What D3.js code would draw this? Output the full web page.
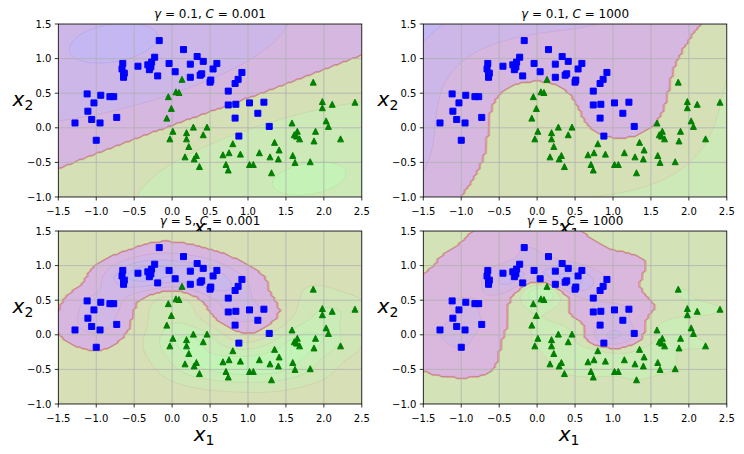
<!DOCTYPE html>
<html>
<head>
<meta charset="utf-8">
<script src="https://cdn.jsdelivr.net/npm/d3@7"></script>
<style>
  body { margin: 0; background: #fff; }
  text { font-family: "DejaVu Sans", sans-serif; }
</style>
</head>
<body>
<svg width="744" height="454"></svg>
<script>
// moons data (class 0 = blue squares, class 1 = green triangles)
var squaresX = [-0.17, 0.15, 0.33, 0.41, 0.59, 0.54, 0.92, 0.87, 0.83, 0.51, 0.50, 0.37, 0.39, 0.24, 0.24, 0.04,
  -0.04, -0.23, -0.32, -0.27, -0.28, -0.30, -0.19, -0.45, -0.65, -0.66, -0.63, -0.64, -1.12, -0.94, -0.82, -0.77,
  -1.03, -1.11, -1.06, -0.95, -1.28, -0.73, -1.00, 0.74, 0.74, 0.84, 1.02, 1.21, 1.13, 0.83, 1.28, 0.88,
  -0.29, -0.64];
var squaresY = [1.26, 1.13, 1.03, 0.96, 0.93, 0.85, 0.80, 0.70, 0.64, 0.69, 0.66, 0.76, 0.78, 0.92, 0.73, 0.81,
  0.93, 1.02, 0.91, 0.95, 0.88, 0.84, 0.75, 0.89, 0.93, 0.85, 0.79, 0.73, 0.49, 0.47, 0.45, 0.45,
  0.36, 0.24, 0.12, 0.07, 0.07, 0.15, -0.18, 0.53, 0.33, 0.34, 0.36, 0.37, 0.21, 0.14, 0.02, -0.12,
  0.90, 0.76];
var trianglesX = [0.13, -0.05, 0.05, 0.09, -0.01, -0.07, 0.01, -0.03, 0.19, 0.19, 0.28, 0.46, 0.41, 0.22, 0.17,
  0.32, 0.29, 0.36, 0.67, 0.75, 0.80, 0.90, 0.71, 0.74, 1.02, 1.07, 1.15, 1.29, 1.31, 1.35, 1.41, 1.40, 1.58,
  1.59, 1.62, 1.61, 1.65, 1.68, 1.64, 1.82, 1.87, 1.89, 1.86, 1.98, 1.98, 2.11, 2.03, 2.06, 2.22, 2.41];
var trianglesY = [0.70, 0.45, 0.52, 0.51, 0.28, 0.14, -0.05, -0.16, -0.07, -0.16, 0.01, 0.01, -0.10, -0.27, -0.42,
  -0.40, -0.45, -0.56, -0.39, -0.36, -0.23, -0.38, -0.53, -0.61, -0.53, -0.53, -0.36, -0.42, -0.65, -0.21, -0.32,
  -0.45, 0.07, -0.40, -0.50, -0.10, -0.05, -0.16, -0.12, -0.49, -0.19, -0.05, 0.66, 0.38, 0.29, 0.34, 0.10,
  0.02, -0.16, 0.37];

// hyperparameters of the four RBF SVMs
var gammas = [0.1, 0.1, 5, 5];
var Cs = [0.001, 1000, 0.001, 1000];

var xTicks = [-1.5, -1.0, -0.5, 0.0, 0.5, 1.0, 1.5, 2.0, 2.5];
var yTicks = [-1.0, -0.5, 0.0, 0.5, 1.0, 1.5];

var svg = d3.select("svg");
var W = 303.5, H = 173;
var lefts = [58.3, 423.3, 58.3, 423.3];
var tops = [24, 24, 231, 231];
var xMin = -1.5, xMax = 2.5, yMin = -1, yMax = 1.5, N = 100;
var fmt = d3.format(".1f");

// standard scaler (as in the pipeline)
var allX = squaresX.concat(trianglesX), allY = squaresY.concat(trianglesY);
var labels = squaresX.map(function () { return -1; }).concat(trianglesX.map(function () { return 1; }));
var mx = d3.mean(allX), my = d3.mean(allY);
var sdx = Math.sqrt(d3.mean(allX, function (v) { return (v - mx) * (v - mx); }));
var sdy = Math.sqrt(d3.mean(allY, function (v) { return (v - my) * (v - my); }));
var Xs = allX.map(function (v, i) { return [(v - mx) / sdx, (allY[i] - my) / sdy]; });

// small SMO solver, libsvm style working set selection
function trainSVM(X, Y, gamma, C) {
  var n = X.length, i, j, t;
  var K = [];
  for (i = 0; i < n; i++) {
    K[i] = new Float64Array(n);
    for (j = 0; j < n; j++) {
      var dx = X[i][0] - X[j][0], dy = X[i][1] - X[j][1];
      K[i][j] = Math.exp(-gamma * (dx * dx + dy * dy));
    }
  }
  var a = new Float64Array(n), G = new Float64Array(n).fill(-1);
  var eps = 1e-3, TAU = 1e-12;
  for (var iter = 0; iter < 2000000; iter++) {
    var Gmax = -Infinity, Gmax2 = -Infinity, gi = -1, gj = -1, objMin = Infinity;
    for (t = 0; t < n; t++) {
      if (Y[t] === 1) { if (a[t] < C && -G[t] >= Gmax) { Gmax = -G[t]; gi = t; } }
      else { if (a[t] > 0 && G[t] >= Gmax) { Gmax = G[t]; gi = t; } }
    }
    i = gi;
    for (j = 0; j < n; j++) {
      var gd = null;
      if (Y[j] === 1) {
        if (a[j] > 0) { gd = Gmax + G[j]; if (G[j] >= Gmax2) Gmax2 = G[j]; }
      } else {
        if (a[j] < C) { gd = Gmax - G[j]; if (-G[j] >= Gmax2) Gmax2 = -G[j]; }
      }
      if (gd !== null && gd > 0 && i >= 0) {
        var q = K[i][i] + K[j][j] - 2 * K[i][j];
        var obj = -gd * gd / (q > 0 ? q : TAU);
        if (obj <= objMin) { objMin = obj; gj = j; }
      }
    }
    if (Gmax + Gmax2 < eps || gi < 0 || gj < 0) break;
    j = gj;
    var ai = a[i], aj = a[j];
    var quad = K[i][i] + K[j][j] - 2 * K[i][j];
    if (quad <= 0) quad = TAU;
    if (Y[i] !== Y[j]) {
      var delta = (-G[i] - G[j]) / quad, diff = a[i] - a[j];
      a[i] += delta; a[j] += delta;
      if (diff > 0) { if (a[j] < 0) { a[j] = 0; a[i] = diff; } }
      else { if (a[i] < 0) { a[i] = 0; a[j] = -diff; } }
      if (diff > 0) { if (a[i] > C) { a[i] = C; a[j] = C - diff; } }
      else { if (a[j] > C) { a[j] = C; a[i] = C + diff; } }
    } else {
      var delta2 = (G[i] - G[j]) / quad, sum = a[i] + a[j];
      a[i] -= delta2; a[j] += delta2;
      if (sum > C) { if (a[i] > C) { a[i] = C; a[j] = sum - C; } }
      else { if (a[j] < 0) { a[j] = 0; a[i] = sum; } }
      if (sum > C) { if (a[j] > C) { a[j] = C; a[i] = sum - C; } }
      else { if (a[i] < 0) { a[i] = 0; a[j] = sum; } }
    }
    var dai = a[i] - ai, daj = a[j] - aj;
    for (t = 0; t < n; t++) {
      G[t] += Y[t] * (Y[i] * K[i][t] * dai + Y[j] * K[j][t] * daj);
    }
  }
  // rho
  var ub = Infinity, lb = -Infinity, nFree = 0, sFree = 0;
  for (t = 0; t < n; t++) {
    var yG = Y[t] * G[t];
    if (a[t] >= C) { if (Y[t] === -1) ub = Math.min(ub, yG); else lb = Math.max(lb, yG); }
    else if (a[t] <= 0) { if (Y[t] === 1) ub = Math.min(ub, yG); else lb = Math.max(lb, yG); }
    else { nFree++; sFree += yG; }
  }
  var rho = nFree > 0 ? sFree / nFree : (ub + lb) / 2;
  return function (p) {
    var s = 0;
    for (var k = 0; k < n; k++) {
      if (a[k] === 0) continue;
      var dx = p[0] - X[k][0], dy = p[1] - X[k][1];
      s += a[k] * Y[k] * Math.exp(-gamma * (dx * dx + dy * dy));
    }
    return s - rho;
  };
}

// matplotlib-like automatic contour levels (MaxNLocator, 8 bins)
function autoLevels(zmin, zmax) {
  var nb = 8, dv = zmax - zmin;
  var scale = Math.pow(10, Math.floor(Math.log10(dv / nb)));
  var raw = dv / nb, lev = null;
  [1, 2, 2.5, 5, 10, 20].forEach(function (s) {
    var st = s * scale;
    if (lev || st < raw) return;
    var best = Math.floor(zmin / st) * st;
    var low = Math.floor((zmin - best) / st + 1e-9);
    var high = Math.ceil((zmax - best) / st - 1e-9);
    lev = d3.range(low, high + 1).map(function (m) { return m * st + best; });
  });
  var i0 = 0, i1 = lev.length;
  lev.forEach(function (v, k) { if (v < zmin) i0 = k; });
  for (var k = lev.length - 1; k >= 0; k--) if (lev[k] > zmax) i1 = k + 1;
  return lev.slice(i0, i1);
}

function brg(t) {
  var r = t < 0.5 ? 2 * t : 2 - 2 * t,
    g = t < 0.5 ? 0 : 2 * t - 1,
    b = t < 0.5 ? 1 - 2 * t : 0;
  return d3.rgb(r * 255, g * 255, b * 255).toString();
}

function drawFilled(g, values, levels, alpha, path, rectPath) {
  var m = levels.length - 1;
  var inner = levels.slice(1, m);
  var cs = d3.contours().size([N, N]).thresholds(inner)(Array.from(values));
  var lo = levels[0], hi = levels[m];
  for (var k = 0; k < m; k++) {
    var d = (k === 0 ? rectPath : path(cs[k - 1])) + (k === m - 1 ? "" : path(cs[k]));
    var col = brg(((levels[k] + levels[k + 1]) / 2 - lo) / (hi - lo));
    g.append("path")
      .attr("d", d)
      .attr("fill-rule", "evenodd")
      .attr("fill", col)
      .attr("fill-opacity", alpha)
      .attr("stroke", col)
      .attr("stroke-opacity", alpha * 0.8)
      .attr("stroke-width", 0.5);
  }
}

var square = { draw: function (ctx) { ctx.rect(-3, -3, 6, 6); } };
var triangle = { draw: function (ctx) { ctx.moveTo(0, -3); ctx.lineTo(3, 3); ctx.lineTo(-3, 3); ctx.closePath(); } };

gammas.forEach(function (gamma, p) {
  var C = Cs[p], L = lefts[p], T = tops[p];
  var f = trainSVM(Xs, labels, gamma, C);
  var dec = new Float64Array(N * N), pred = new Float64Array(N * N);
  for (var j = 0; j < N; j++) {
    for (var i = 0; i < N; i++) {
      var xv = xMin + i * (xMax - xMin) / (N - 1), yv = yMin + j * (yMax - yMin) / (N - 1);
      var v = f([(xv - mx) / sdx, (yv - my) / sdy]);
      dec[j * N + i] = v;
      pred[j * N + i] = v > 0 ? 1 : 0;
    }
  }

  var x = d3.scaleLinear().domain([xMin, xMax]).range([L, L + W]);
  var y = d3.scaleLinear().domain([yMin, yMax]).range([T + H, T]);
  var proj = d3.geoTransform({
    point: function (u, w) {
      this.stream.point(x(xMin + (u - 0.5) * (xMax - xMin) / (N - 1)), y(yMin + (w - 0.5) * (yMax - yMin) / (N - 1)));
    }
  });
  var path = d3.geoPath(proj);
  var rectPath = "M" + (L - 5) + "," + (T - 5) + "H" + (L + W + 5) + "V" + (T + H + 5) + "H" + (L - 5) + "Z";

  var g = svg.append("g");
  g.append("rect").attr("x", L).attr("y", T).attr("width", W).attr("height", H).attr("fill", "#fff");
  g.append("clipPath").attr("id", "clip" + p)
    .append("rect").attr("x", L).attr("y", T).attr("width", W).attr("height", H);
  var plot = g.append("g").attr("clip-path", "url(#clip" + p + ")");

  drawFilled(plot.append("g"), pred, autoLevels(0, 1), 0.2, path, rectPath);
  drawFilled(plot.append("g"), dec, autoLevels(d3.min(dec), d3.max(dec)), 0.1, path, rectPath);

  // grid
  plot.append("g").selectAll("line").data(xTicks).join("line")
    .attr("x1", function (d) { return x(d); }).attr("x2", function (d) { return x(d); })
    .attr("y1", T).attr("y2", T + H)
    .attr("stroke", "#b0b0b0").attr("stroke-width", 0.8);
  plot.append("g").selectAll("line").data(yTicks).join("line")
    .attr("y1", function (d) { return y(d); }).attr("y2", function (d) { return y(d); })
    .attr("x1", L).attr("x2", L + W)
    .attr("stroke", "#b0b0b0").attr("stroke-width", 0.8);

  // data points
  plot.append("g").selectAll("path").data(squaresX).join("path")
    .attr("d", d3.symbol(square))
    .attr("transform", function (d, i) { return "translate(" + x(d) + "," + y(squaresY[i]) + ")"; })
    .attr("fill", "#0000ff").attr("stroke", "#0000ff").attr("stroke-width", 1);
  plot.append("g").selectAll("path").data(trianglesX).join("path")
    .attr("d", d3.symbol(triangle))
    .attr("transform", function (d, i) { return "translate(" + x(d) + "," + y(trianglesY[i]) + ")"; })
    .attr("fill", "#008000").attr("stroke", "#008000").attr("stroke-width", 1);

  // spines
  g.append("rect").attr("x", L).attr("y", T).attr("width", W).attr("height", H)
    .attr("fill", "none").attr("stroke", "#000").attr("stroke-width", 0.8);

  // ticks
  g.append("g").selectAll("line").data(xTicks).join("line")
    .attr("x1", function (d) { return x(d); }).attr("x2", function (d) { return x(d); })
    .attr("y1", T + H).attr("y2", T + H + 3.5).attr("stroke", "#000").attr("stroke-width", 0.8);
  g.append("g").selectAll("text").data(xTicks).join("text")
    .attr("x", function (d) { return x(d); }).attr("y", T + H + 17.5)
    .attr("text-anchor", "middle").attr("font-size", 10).text(fmt);
  g.append("g").selectAll("line").data(yTicks).join("line")
    .attr("y1", function (d) { return y(d); }).attr("y2", function (d) { return y(d); })
    .attr("x1", L - 3.5).attr("x2", L).attr("stroke", "#000").attr("stroke-width", 0.8);
  var yl = g.append("g").selectAll("text").data(yTicks).join("text")
    .attr("x", L - 7).attr("y", function (d) { return y(d) + 3.6; })
    .attr("text-anchor", "end").attr("font-size", 10).text(fmt);
  var widest = d3.max(yl.nodes(), function (n) { return n.getComputedTextLength(); });

  // title
  var title = g.append("text").attr("x", L + W / 2).attr("y", T - 6)
    .attr("text-anchor", "middle").attr("font-size", 12);
  title.append("tspan").attr("font-style", "italic").text("\u03b3");
  title.append("tspan").text(" = " + String(gamma) + ", ");
  title.append("tspan").attr("font-style", "italic").text("C");
  title.append("tspan").text(" = " + String(C));

  // axis labels
  var xl = g.append("text").attr("x", L + W / 2 - 6).attr("y", T + H + 37)
    .attr("text-anchor", "middle").attr("font-size", 20);
  xl.append("tspan").attr("font-style", "italic").text("x");
  xl.append("tspan").attr("font-size", 14).attr("dy", 4).text("1");
  var ylab = g.append("text").attr("x", L - 7 - widest - 4).attr("y", T + H / 2 - 4.5)
    .attr("text-anchor", "middle").attr("font-size", 20);
  ylab.append("tspan").attr("font-style", "italic").text("x");
  ylab.append("tspan").attr("font-size", 14).attr("dy", 4).text("2");
});
</script>
</body>
</html>
